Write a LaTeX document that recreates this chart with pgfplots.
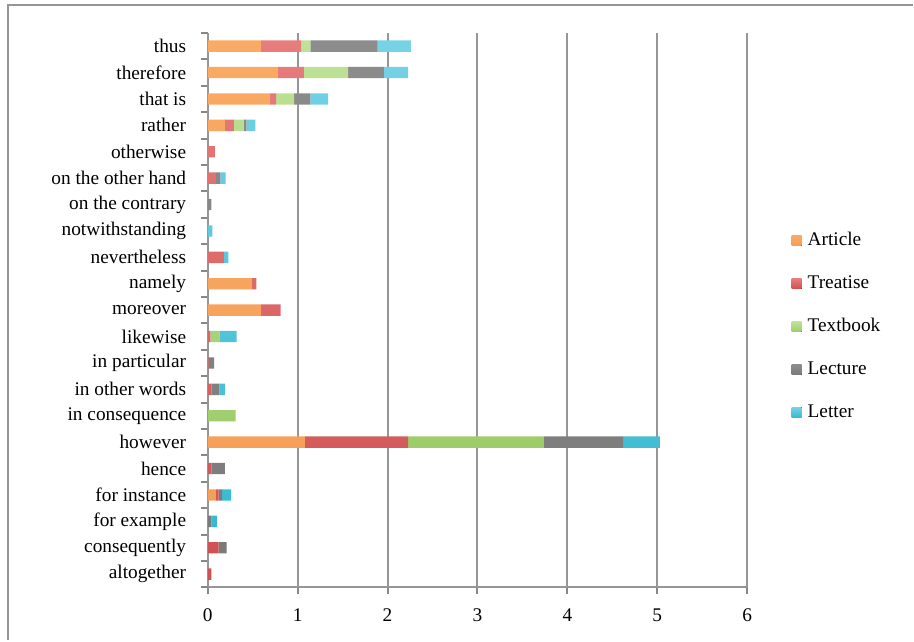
\documentclass[border=0pt]{standalone}
\usepackage{fontspec}
\setmainfont{Liberation Serif}
\usepackage{pgfplots}
\usepackage{pgfplotstable}
\pgfplotsset{compat=1.18}

\definecolor{gridgray}{RGB}{150,150,150}
\definecolor{tickgray}{RGB}{135,135,135}
\definecolor{artA}{RGB}{250,170,100}
\definecolor{artB}{RGB}{245,158,88}
\definecolor{treA}{RGB}{232,125,125}
\definecolor{treB}{RGB}{206,80,80}
\definecolor{texA}{RGB}{192,226,152}
\definecolor{texB}{RGB}{158,204,106}
\definecolor{lecA}{RGB}{140,140,140}
\definecolor{lecB}{RGB}{122,122,122}
\definecolor{letA}{RGB}{120,210,230}
\definecolor{letB}{RGB}{55,186,208}

% y: 0 = altogether (bottom) ... 20 = thus (top)
\pgfplotstableread{
y  Article Treatise Textbook Lecture Letter
0  0.00 0.04 0.00 0.00 0.00
1  0.00 0.12 0.00 0.09 0.00
2  0.00 0.00 0.00 0.04 0.06
3  0.09 0.03 0.00 0.04 0.10
4  0.00 0.04 0.00 0.15 0.00
5  1.08 1.15 1.51 0.88 0.41
6  0.00 0.00 0.31 0.00 0.00
7  0.00 0.04 0.00 0.09 0.06
8  0.00 0.01 0.00 0.06 0.00
9  0.00 0.03 0.10 0.00 0.19
10 0.59 0.22 0.00 0.00 0.00
11 0.49 0.05 0.00 0.00 0.00
12 0.00 0.18 0.00 0.00 0.05
13 0.00 0.00 0.00 0.00 0.05
14 0.00 0.00 0.00 0.04 0.00
15 0.00 0.09 0.00 0.05 0.06
16 0.00 0.08 0.00 0.00 0.00
17 0.19 0.10 0.11 0.03 0.10
18 0.69 0.07 0.20 0.18 0.20
19 0.78 0.29 0.49 0.40 0.27
20 0.59 0.45 0.10 0.75 0.37
}\connectives

\begin{document}
\fontsize{14.5}{17}\selectfont
\begin{tikzpicture}
% page size, and the chart frame (its right and bottom edges lie outside)
\path (-156pt,-39.75pt) rectangle (529.5pt,441pt);
\draw[gridgray, line width=1.5pt] (-150pt,-39.75pt) |- (529.5pt,437.25pt);
\begin{axis}[
  at={(0pt,0pt)}, anchor=south west,
  scale only axis, width=405pt, height=416.25pt,
  xbar stacked, bar width=8.5pt,
  xmin=0, xmax=6, ymin=-0.5, ymax=20.5,
  xtick={0,...,6},
  % tick marks sit between categories, names are extra ticks without marks
  ytick={-0.5,0.5,...,20.5}, yticklabels={},
  extra y ticks={0,...,20},
  extra y tick labels={altogether,consequently,for example,for instance,hence,however,in consequence,in other words,in particular,likewise,moreover,namely,nevertheless,notwithstanding,on the contrary,on the other hand,otherwise,rather,that is,therefore,thus},
  extra y tick style={major tick length=0pt, yticklabel style={xshift=-5.25pt}},
  axis x line*=bottom, axis y line*=left,
  axis line style={-, gridgray, line width=1.5pt},
  xmajorgrids, major grid style={gridgray, line width=1.5pt},
  tick align=outside,
  major tick length=5.25pt,
  every tick/.style={tickgray, line width=1.5pt},
  /pgf/number format/assume math mode=true,
  yticklabel style={xshift=-6pt},
  xticklabel style={yshift=-6pt},
  legend cell align=left,
  legend image code/.code={\fill[#1,draw=none] (0pt,-3.75pt) rectangle (7.5pt,3.75pt);},
  legend style={draw=none, fill=none, at={(1.082,0.471)}, anchor=west,
    row sep=16.3pt, inner sep=0pt,
    /tikz/every odd column/.style={column sep=2.5pt}},
]
\addplot[draw=none, top color=artA, bottom color=artB] table[x=Article, y=y] {\connectives};
\addplot[draw=none, top color=treA, bottom color=treB] table[x=Treatise, y=y] {\connectives};
\addplot[draw=none, top color=texA, bottom color=texB] table[x=Textbook, y=y] {\connectives};
\addplot[draw=none, top color=lecA, bottom color=lecB] table[x=Lecture, y=y] {\connectives};
\addplot[draw=none, top color=letA, bottom color=letB] table[x=Letter, y=y] {\connectives};
\legend{Article,Treatise,Textbook,Lecture,Letter}
\end{axis}
\end{tikzpicture}
\end{document}
